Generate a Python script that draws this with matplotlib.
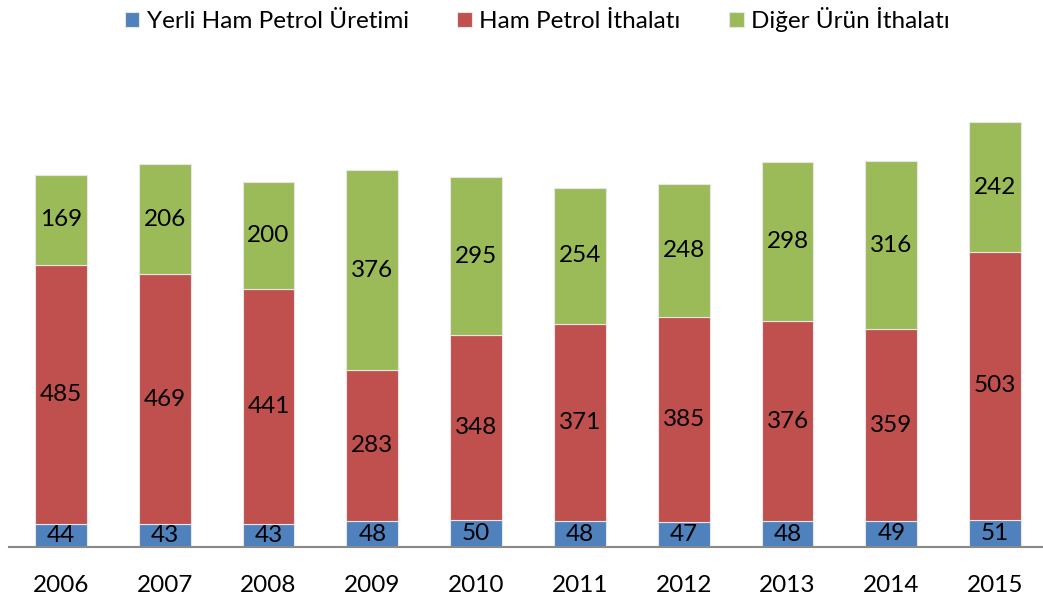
import numpy as np
import matplotlib
matplotlib.use("Agg")
from matplotlib import pyplot as plt

years = ["2006", "2007", "2008", "2009", "2010", "2011", "2012", "2013", "2014", "2015"]
yerli = [44, 43, 43, 48, 50, 48, 47, 48, 49, 51]
ham_ithalat = [485, 469, 441, 283, 348, 371, 385, 376, 359, 503]
diger_ithalat = [169, 206, 200, 376, 295, 254, 248, 298, 316, 242]

series = [
    ("Yerli Ham Petrol Üretimi", yerli, "#4F81BD"),
    ("Ham Petrol İthalatı", ham_ithalat, "#C0504D"),
    ("Diğer Ürün İthalatı", diger_ithalat, "#9BBB59"),
]

plt.rcParams['font.family'] = ['Lato', 'DejaVu Sans']

fig = plt.figure(figsize=(10.43, 6.01), dpi=100)
ax = fig.add_axes([9 / 1043, 54 / 601, 1038 / 1043, 480 / 601])

x = np.arange(len(years))
bottom = np.zeros(len(years))
for name, vals, color in series:
    vals = np.array(vals)
    bars = ax.bar(x, vals, 0.5, bottom=bottom, color=color, edgecolor="#e6e6e6",
                  linewidth=0.8, label=name)
    ax.bar_label(bars, labels=[str(v) for v in vals], label_type="center",
                 fontsize=17.5, color="black")
    bottom += vals

ax.set_xlim(-0.5, len(years) - 0.5)
ax.set_ylim(0, 900)
ax.set_xticks(x)
ax.set_xticklabels(years, fontsize=17.5)
ax.tick_params(axis="x", length=0, pad=20)
ax.set_yticks([])
for side in ["top", "right", "left"]:
    ax.spines[side].set_visible(False)
ax.spines["bottom"].set_color("#888888")
ax.spines["bottom"].set_linewidth(1.5)

fig.legend(loc="upper center", bbox_to_anchor=(0.515, 1.025), ncol=3, frameon=False,
           fontsize=17.5, handlelength=0.6, handleheight=0.6, handletextpad=0.3,
           columnspacing=2.0)

fig.savefig("out.png", dpi=100)
